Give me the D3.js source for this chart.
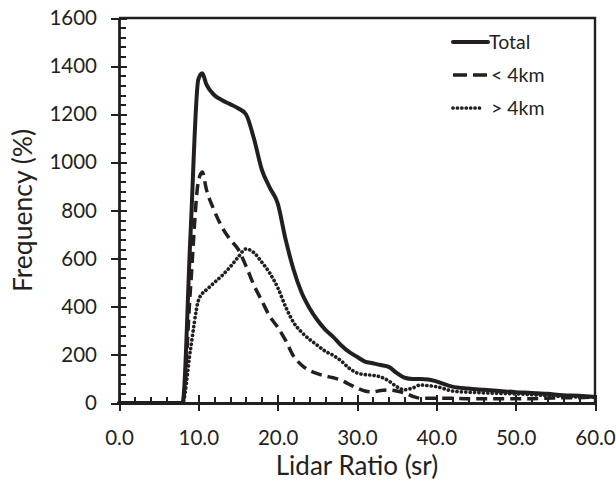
<!DOCTYPE html>
<html>
<head>
<meta charset="utf-8">
<script src="https://cdn.jsdelivr.net/npm/d3@7"></script>
<style>
  body { margin: 0; background: #fff; }
  text { font-family: Lato, "Open Sans", sans-serif; fill: #231f20; }
</style>
</head>
<body>
<div id="chart"></div>
<script>
const lidarRatio = [0, 8, 9, 10, 10.5, 11, 12, 13, 14, 15, 16, 17, 18, 19, 20, 21, 22, 23, 24, 25,
  26, 27, 28, 29, 30, 31, 32, 33, 34, 35, 36, 37, 38, 39, 40, 42, 44, 46, 48, 50,
  52, 54, 56, 58, 60];
const totalFreq = [0, 0, 690, 1345, 1370, 1325, 1280, 1258, 1242, 1225, 1200, 1100, 970, 895, 830, 680, 555, 460, 395, 345,
  305, 275, 240, 212, 192, 172, 165, 158, 150, 125, 105, 100, 100, 98, 90, 68, 60, 55, 50, 45,
  42, 38, 32, 30, 25];
const below4km = [0, 0, 470, 920, 960, 890, 800, 730, 680, 640, 570, 490, 425, 360, 315, 260, 195, 158, 135, 122,
  112, 105, 95, 78, 62, 50, 46, 52, 54, 50, 42, 28, 20, 20, 20, 20, 18, 18, 18, 18,
  18, 20, 22, 22, 25];
const above4km = [0, 0, 220, 425, 455, 470, 500, 530, 565, 605, 640, 625, 585, 540, 480, 400, 335, 295, 265, 240,
  215, 198, 175, 145, 125, 118, 115, 108, 92, 68, 55, 62, 75, 72, 68, 50, 45, 42, 40, 38,
  35, 30, 26, 25, 25];

const seriesNames = ['Total', '< 4km', '> 4km'];
const xMajorTicks = [0, 10, 20, 30, 40, 50, 60];
const yMajorTicks = [0, 200, 400, 600, 800, 1000, 1200, 1400, 1600];

class LineChart {
  constructor(containerId) {
    this.containerId = containerId;
    this.series = [totalFreq, below4km, above4km].map((vals, i) => ({
      name: seriesNames[i],
      points: lidarRatio.map((x, j) => ({ x, y: vals[j] })),
    }));
    this.width = 616;
    this.height = 480;
    this.plot = {
      left: 119, right: 595, top: 18, bottom: 403,
    };
    this.styles = [
      { width: 4, dash: null, cap: 'round' },
      { width: 3.5, dash: '11,6', cap: 'butt' },
      { width: 3.7, dash: '0.1,4.3', cap: 'round' },
    ];
    this.init();
    this.update();
  }

  init() {
    const p = this.plot;
    this.svg = d3.select(`#${this.containerId}`)
      .append('svg')
      .attr('width', this.width)
      .attr('height', this.height);

    this.x = d3.scaleLinear().domain([0, 60]).range([p.left, p.right]);
    this.y = d3.scaleLinear().domain([0, 1600]).range([p.bottom, p.top]);

    this.line = d3.line()
      .x((d) => this.x(d.x))
      .y((d) => this.y(d.y))
      .curve(d3.curveMonotoneX);
  }

  update() {
    const { svg, x, y } = this;
    const p = this.plot;
    const ink = '#231f20';

    // minor ticks
    svg.append('g')
      .attr('transform', `translate(0,${p.bottom})`)
      .call(d3.axisBottom(x).tickValues(d3.range(0, 61, 2)).tickSize(-6).tickSizeOuter(0).tickFormat(''))
      .call((g) => g.select('.domain').remove());
    svg.append('g')
      .attr('transform', `translate(${p.left},0)`)
      .call(d3.axisLeft(y).tickValues(d3.range(0, 1601, 40)).tickSize(-7).tickSizeOuter(0).tickFormat(''))
      .call((g) => g.select('.domain').remove());

    // major ticks + labels
    const xAxis = svg.append('g')
      .attr('transform', `translate(0,${p.bottom})`)
      .call(d3.axisBottom(x).tickValues(xMajorTicks).tickSize(8).tickSizeOuter(0)
        .tickPadding(19).tickFormat(d3.format('.1f')));
    xAxis.selectAll('.tick line').attr('y1', -8);

    const yAxis = svg.append('g')
      .attr('transform', `translate(${p.left},0)`)
      .call(d3.axisLeft(y).tickValues(yMajorTicks).tickSize(8).tickSizeOuter(0)
        .tickPadding(14).tickFormat(d3.format('d')));
    yAxis.selectAll('.tick line').attr('x1', 8);

    svg.selectAll('.domain').attr('stroke', ink).attr('stroke-width', 2.8);
    svg.selectAll('.tick line')
      .attr('stroke', ink)
      .attr('stroke-width', 2)
      .attr('shape-rendering', 'crispEdges');
    svg.selectAll('.tick text')
      .attr('font-size', 20.5)
      .attr('font-family', 'Lato, "Open Sans", sans-serif')
      .attr('fill', ink);

    // frame top and right
    svg.append('path')
      .attr('d', `M${p.left},${p.top}H${p.right}V${p.bottom}`)
      .attr('fill', 'none')
      .attr('stroke', ink)
      .attr('stroke-width', 2.4);

    // series
    svg.selectAll('.series')
      .data(this.series)
      .enter().append('path')
      .attr('class', 'series')
      .attr('d', (d) => this.line(d.points))
      .attr('fill', 'none')
      .attr('stroke', ink)
      .attr('stroke-width', (d, i) => this.styles[i].width)
      .attr('stroke-dasharray', (d, i) => this.styles[i].dash)
      .attr('stroke-linecap', (d, i) => this.styles[i].cap)
      .attr('stroke-linejoin', 'round');

    // axis titles
    svg.append('text')
      .attr('x', (p.left + p.right) / 2)
      .attr('y', 475)
      .attr('text-anchor', 'middle')
      .attr('font-size', 26)
      .text('Lidar Ratio (sr)');
    svg.append('text')
      .attr('transform', `translate(32,${(p.top + p.bottom) / 2}) rotate(-90)`)
      .attr('text-anchor', 'middle')
      .attr('font-size', 26.5)
      .text('Frequency (%)');

    // legend
    const legend = svg.selectAll('.legend')
      .data(this.series)
      .enter().append('g')
      .attr('class', 'legend')
      .attr('transform', (d, i) => `translate(453,${42 + i * 33})`);
    legend.append('line')
      .attr('x1', 0)
      .attr('x2', (d, i) => (i === 2 ? 30 : 35))
      .attr('stroke', ink)
      .attr('stroke-width', (d, i) => this.styles[i].width)
      .attr('stroke-dasharray', (d, i) => (i === 1 ? '14,6' : this.styles[i].dash))
      .attr('stroke-linecap', (d, i) => this.styles[i].cap);
    legend.append('text')
      .attr('x', (d, i) => (i === 0 ? 36 : 38))
      .attr('dy', '0.36em')
      .attr('font-size', 19.5)
      .text((d) => d.name);
  }
}

new LineChart('chart');
</script>
</body>
</html>
